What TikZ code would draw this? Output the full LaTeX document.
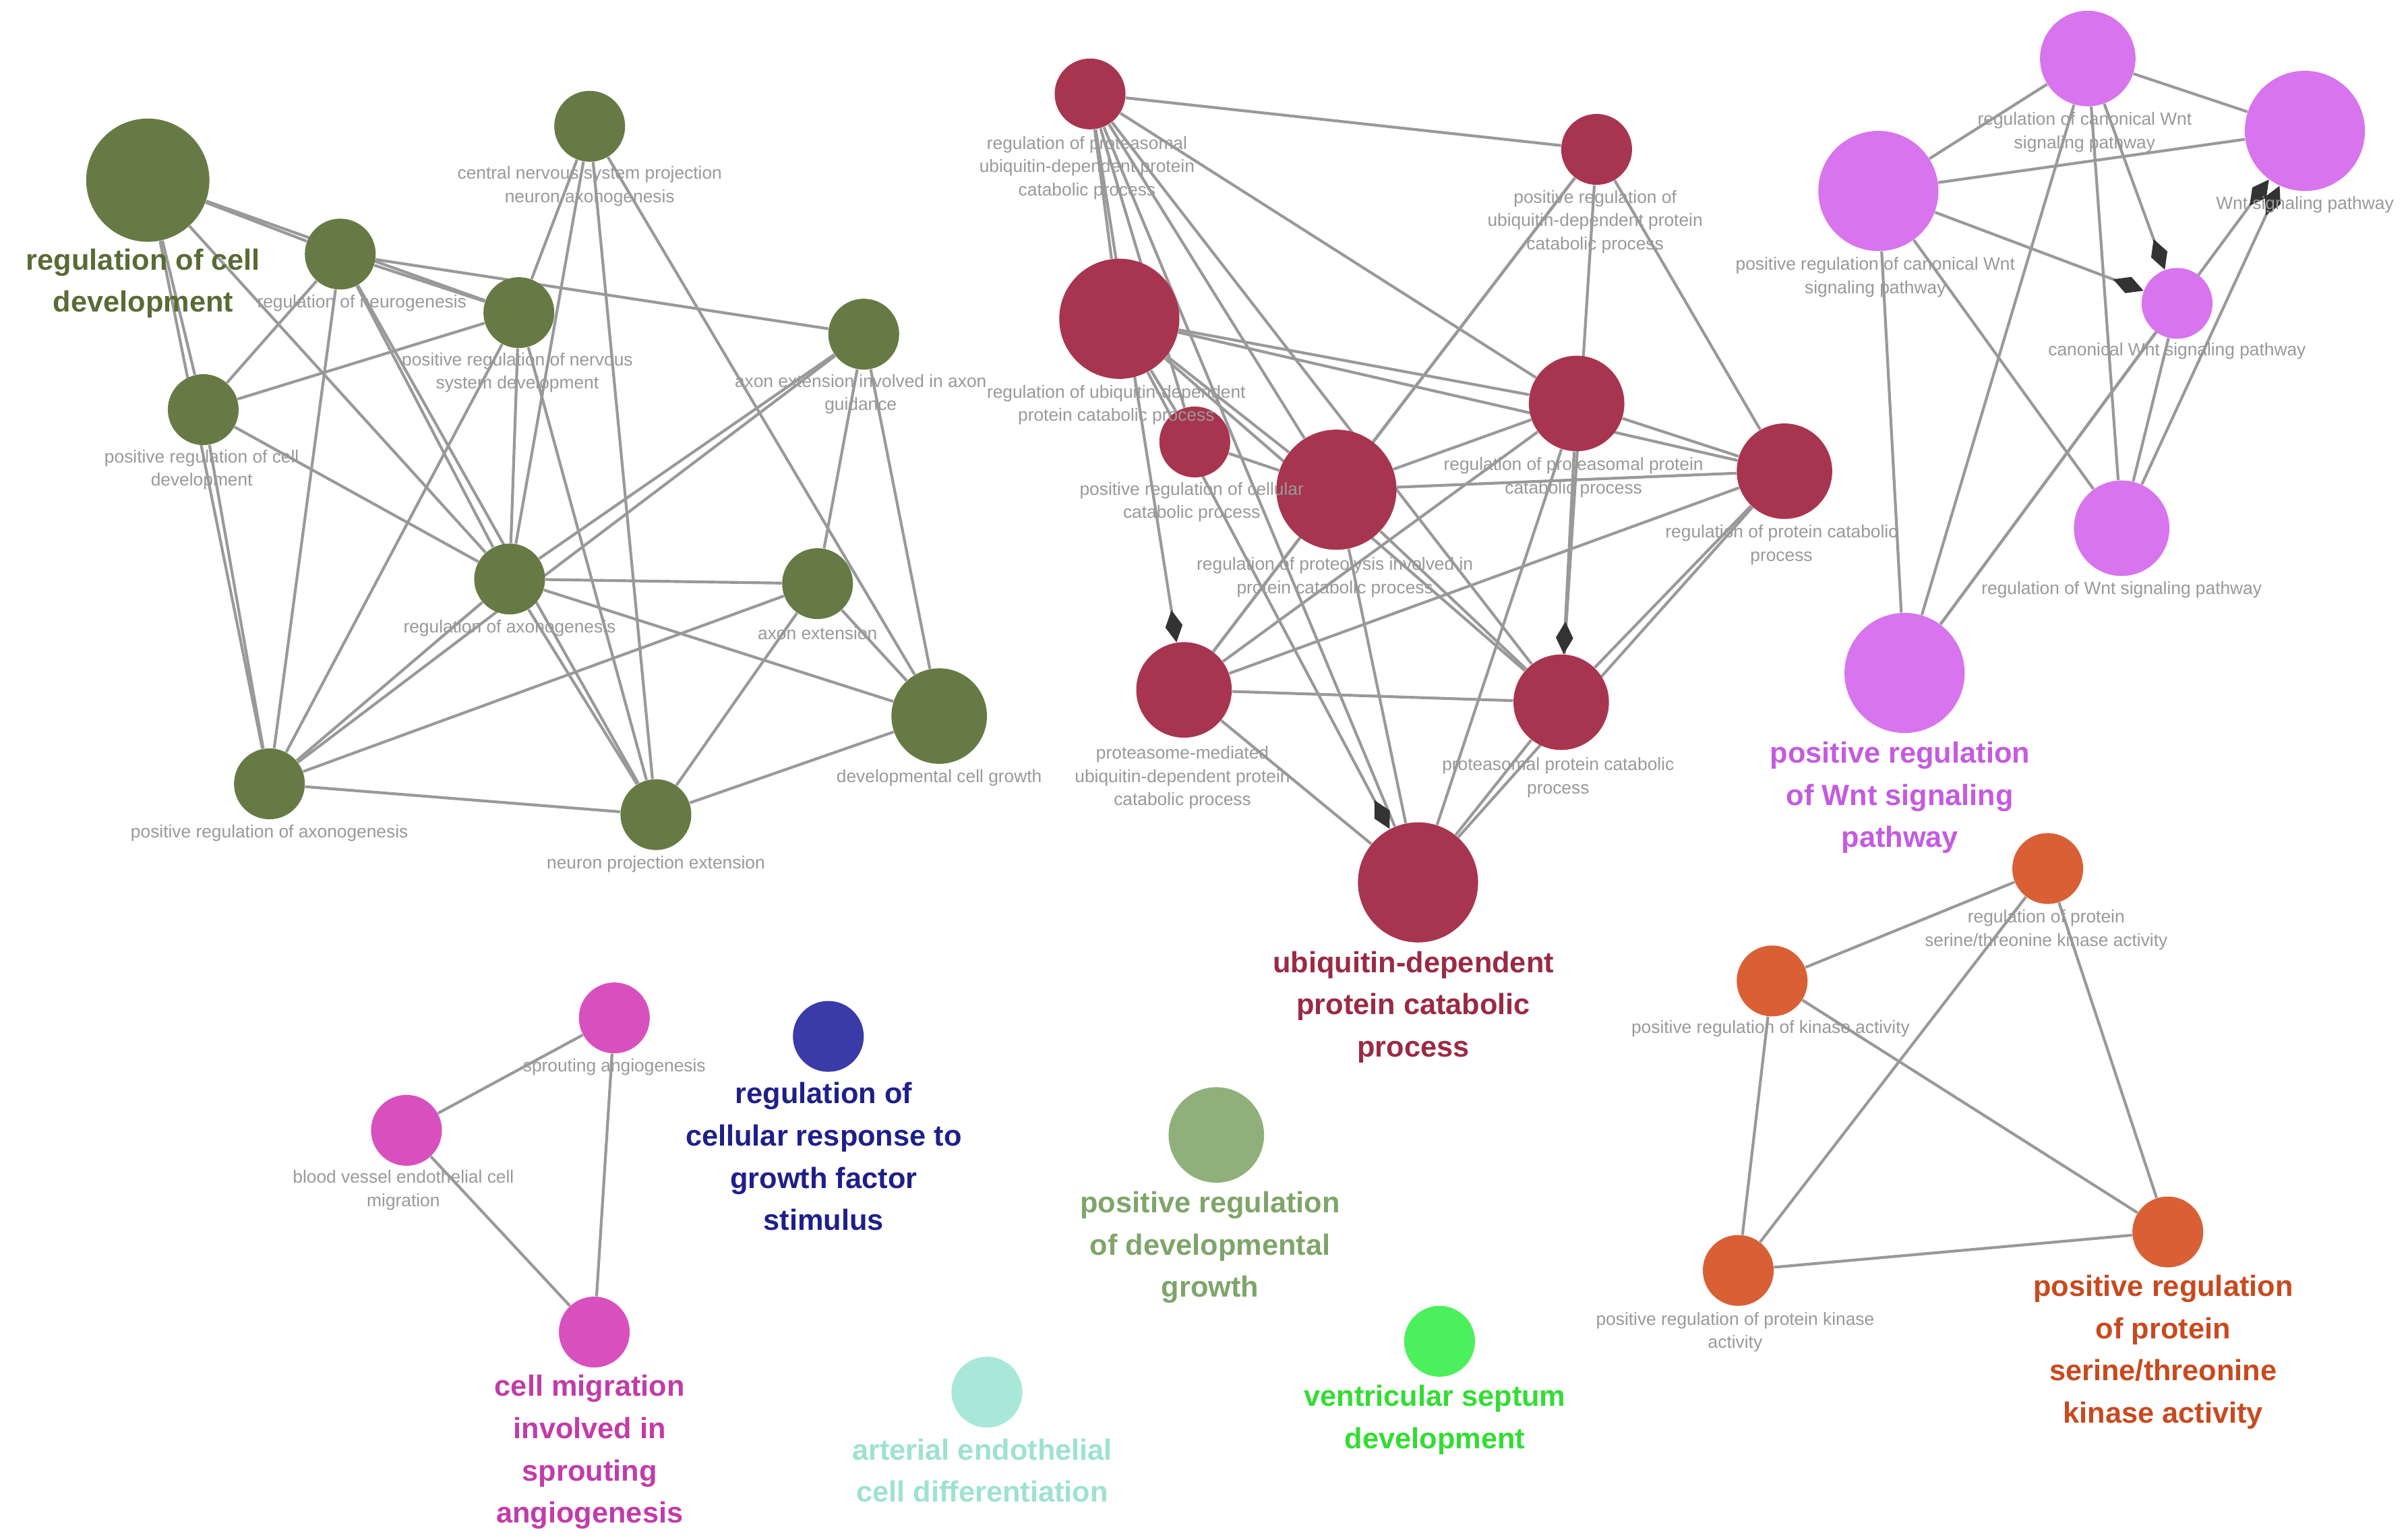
\documentclass[tikz,border=0pt]{standalone}
\usepackage{fontspec}
\setmainfont{Liberation Sans}
\usetikzlibrary{arrows.meta,backgrounds}
\definecolor{cg}{HTML}{677A46}\definecolor{cgt}{HTML}{5A6B35}
\definecolor{cr}{HTML}{A8354F}\definecolor{crt}{HTML}{9A2A45}
\definecolor{cv}{HTML}{D774EE}\definecolor{cvt}{HTML}{C45BE0}
\definecolor{co}{HTML}{D95F35}\definecolor{cot}{HTML}{C84A1E}
\definecolor{cmag}{HTML}{D850BD}\definecolor{cmagt}{HTML}{C23CA8}
\definecolor{cb}{HTML}{3A3AA8}\definecolor{cbt}{HTML}{1F1F8A}
\definecolor{clg}{HTML}{8FB07A}\definecolor{clgt}{HTML}{7FA56A}
\definecolor{cbg}{HTML}{4CF05C}\definecolor{cbgt}{HTML}{33DD33}
\definecolor{caq}{HTML}{A9E8D8}\definecolor{caqt}{HTML}{9EE2D0}
\tikzset{
 n/.style={circle,inner sep=0pt,minimum size=1.15cm},
 m/.style={circle,inner sep=0pt,minimum size=1.55cm},
 l/.style={circle,inner sep=0pt,minimum size=1.95cm},
 e/.style={draw=black!40,line width=1.3pt},
 a/.style={e,-{Diamond[length=15pt,width=8pt,color=black!80,fill=black!80]}},
 s/.style={text=black!40,font=\fontsize{8.2}{10.8}\selectfont,align=center,inner sep=0pt},
 b/.style={font=\fontsize{13.5}{19.5}\selectfont\bfseries,align=center,inner sep=0pt}
}
\begin{document}
\begin{tikzpicture}[x=0.025cm,y=-0.025cm]
\useasboundingbox (0,0) rectangle (1564,1000);
% green
\node[n,minimum size=2cm,fill=cg] (g1) at (96,117) {};
\node[n,fill=cg] (g2) at (221,165) {};
\node[n,fill=cg] (g3) at (337,203) {};
\node[n,fill=cg] (g4) at (383,82) {};
\node[n,fill=cg] (g5) at (132,266) {};
\node[n,fill=cg] (g6) at (561,217) {};
\node[n,fill=cg] (g7) at (331,376) {};
\node[n,fill=cg] (g8) at (531,379) {};
\node[m,fill=cg] (g9) at (610,465) {};
\node[n,fill=cg] (g10) at (175,509) {};
\node[n,fill=cg] (g11) at (426,529) {};
% red
\node[n,fill=cr] (r1) at (708,61) {};
\node[n,fill=cr] (r2) at (1037,97) {};
\node[l,fill=cr] (r3) at (727,207) {};
\node[n,fill=cr] (r4) at (776,287) {};
\node[l,fill=cr] (r5) at (868,318) {};
\node[m,fill=cr] (r6) at (1024,262) {};
\node[m,fill=cr] (r7) at (1159,306) {};
\node[m,fill=cr] (r8) at (769,448) {};
\node[m,fill=cr] (r9) at (1014,456) {};
\node[l,fill=cr] (r10) at (921,573) {};
% violet
\node[m,fill=cv] (v1) at (1356,38) {};
\node[l,fill=cv] (v2) at (1497,85) {};
\node[l,fill=cv] (v3) at (1220,124) {};
\node[n,fill=cv] (v4) at (1414,197) {};
\node[m,fill=cv] (v5) at (1378,343) {};
\node[l,fill=cv] (v6) at (1237,437) {};
% orange
\node[n,fill=co] (o1) at (1330,564) {};
\node[n,fill=co] (o2) at (1151,637) {};
\node[n,fill=co] (o3) at (1408,800) {};
\node[n,fill=co] (o4) at (1129,825) {};
% magenta
\node[n,fill=cmag] (m1) at (399,661) {};
\node[n,fill=cmag] (m2) at (264,734) {};
\node[n,fill=cmag] (m3) at (386,865) {};
% singles
\node[n,fill=cb] (s1) at (538,673) {};
\node[m,fill=clg] (s2) at (790,737) {};
\node[n,fill=cbg] (s3) at (935,871) {};
\node[n,fill=caq] (s4) at (641,904) {};
% edges
\begin{scope}[on background layer]
\fill[white] (0,0) rectangle (1564,1000);
\foreach \u/\v in {g1/g2,g1/g3,g1/g5,g1/g10,g1/g7,g2/g5,g2/g3,g2/g6,g2/g7,g2/g10,g2/g11,g3/g5,g3/g7,g3/g10,g3/g11,g4/g7,g4/g11,g4/g9,g4/g3,g5/g10,g5/g7,g6/g7,g6/g10,g6/g8,g6/g9,g7/g8,g7/g10,g7/g11,g7/g9,g8/g10,g8/g11,g8/g9,g10/g11,g11/g9,
r1/r2,r1/r3,r1/r5,r1/r6,r1/r9,r1/r10,r1/r4,r2/r5,r2/r8,r2/r9,r3/r4,r3/r5,r3/r6,r3/r7,r3/r9,r4/r5,r5/r6,r5/r7,r5/r8,r5/r9,r5/r10,r6/r7,r6/r8,r7/r8,r7/r9,r7/r10,r8/r9,r8/r10,r9/r10,r2/r7,r6/r10,
v1/v3,v1/v2,v3/v2,v1/v5,v1/v6,v3/v6,v3/v5,v4/v5,v4/v6,
o1/o2,o1/o3,o1/o4,o2/o3,o2/o4,o3/o4,m1/m2,m1/m3,m2/m3}
 {\draw[e] (\u) -- (\v);}
\draw[a] (r1) -- (r8);
\draw[a] (r6) -- (r9);
\draw[a] (r3) -- (r10);
\draw[a] (v3) -- (v4);
\draw[a] (v1) -- (v4);
\draw[a] (v6) -- (v2);
\draw[a] (v5) -- (v2);
\end{scope}
% small labels
\node[s] (lg4) at (383,121) {central nervous system projection\\neuron axonogenesis};
\node[s] (lg2) at (235,197) {regulation of neurogenesis};
\node[s] (lg3) at (336,242) {positive regulation of nervous\\system development};
\node[s] (lg5) at (131,305) {positive regulation of cell\\development};
\node[s] (lg6) at (559,256) {axon extension involved in axon\\guidance};
\node[s] (lg7) at (331,408) {regulation of axonogenesis};
\node[s] (lg8) at (531,411) {axon extension};
\node[s] (lg9) at (610,505) {developmental cell growth};
\node[s] (lg10) at (175,541) {positive regulation of axonogenesis};
\node[s] (lg11) at (426,561) {neuron projection extension};
\node[s] (lr1) at (706,109) {regulation of proteasomal\\ubiquitin-dependent protein\\catabolic process};
\node[s] (lr2) at (1036,144) {positive regulation of\\ubiquitin-dependent protein\\catabolic process};
\node[s] (lr3) at (725,263) {regulation of ubiquitin-dependent\\protein catabolic process};
\node[s] (lr4) at (774,326) {positive regulation of cellular\\catabolic process};
\node[s] (lr5) at (867,375) {regulation of proteolysis involved in\\protein catabolic process};
\node[s] (lr6) at (1022,310) {regulation of proteasomal protein\\catabolic process};
\node[s] (lr7) at (1157,354) {regulation of protein catabolic\\process};
\node[s] (lr8) at (768,505) {proteasome-mediated\\ubiquitin-dependent protein\\catabolic process};
\node[s] (lr9) at (1012,505) {proteasomal protein catabolic\\process};
\node[s] (lv1) at (1354,86) {regulation of canonical Wnt\\signaling pathway};
\node[s] (lv2) at (1497,133) {Wnt signaling pathway};
\node[s] (lv3) at (1218,180) {positive regulation of canonical Wnt\\signaling pathway};
\node[s] (lv4) at (1414,228) {canonical Wnt signaling pathway};
\node[s] (lv5) at (1378,383) {regulation of Wnt signaling pathway};
\node[s] (lo1) at (1329,604) {regulation of protein\\serine/threonine kinase activity};
\node[s] (lo2) at (1150,668) {positive regulation of kinase activity};
\node[s] (lo4) at (1127,865) {positive regulation of protein kinase\\activity};
\node[s] (lm1) at (399,693) {sprouting angiogenesis};
\node[s] (lm2) at (262,773) {blood vessel endothelial cell\\migration};
% big labels
\node[b,text=cgt] (lg1) at (93,184) {regulation of cell\\development};
\node[b,text=crt] (lr10) at (918,654) {ubiquitin-dependent\\protein catabolic\\process};
\node[b,text=cvt] (lv6) at (1234,518) {positive regulation\\of Wnt signaling\\pathway};
\node[b,text=cot] (lo3) at (1405,878) {positive regulation\\of protein\\serine/threonine\\kinase activity};
\node[b,text=cmagt] (lm3) at (383,943) {cell migration\\involved in\\sprouting\\angiogenesis};
\node[b,text=cbt] (ls1) at (535,751) {regulation of\\cellular response to\\growth factor\\stimulus};
\node[b,text=clgt] (ls2) at (786,810) {positive regulation\\of developmental\\growth};
\node[b,text=cbgt] (ls3) at (932,922) {ventricular septum\\development};
\node[b,text=caqt] (ls4) at (638,955) {arterial endothelial\\cell differentiation};
\end{tikzpicture}
\end{document}
